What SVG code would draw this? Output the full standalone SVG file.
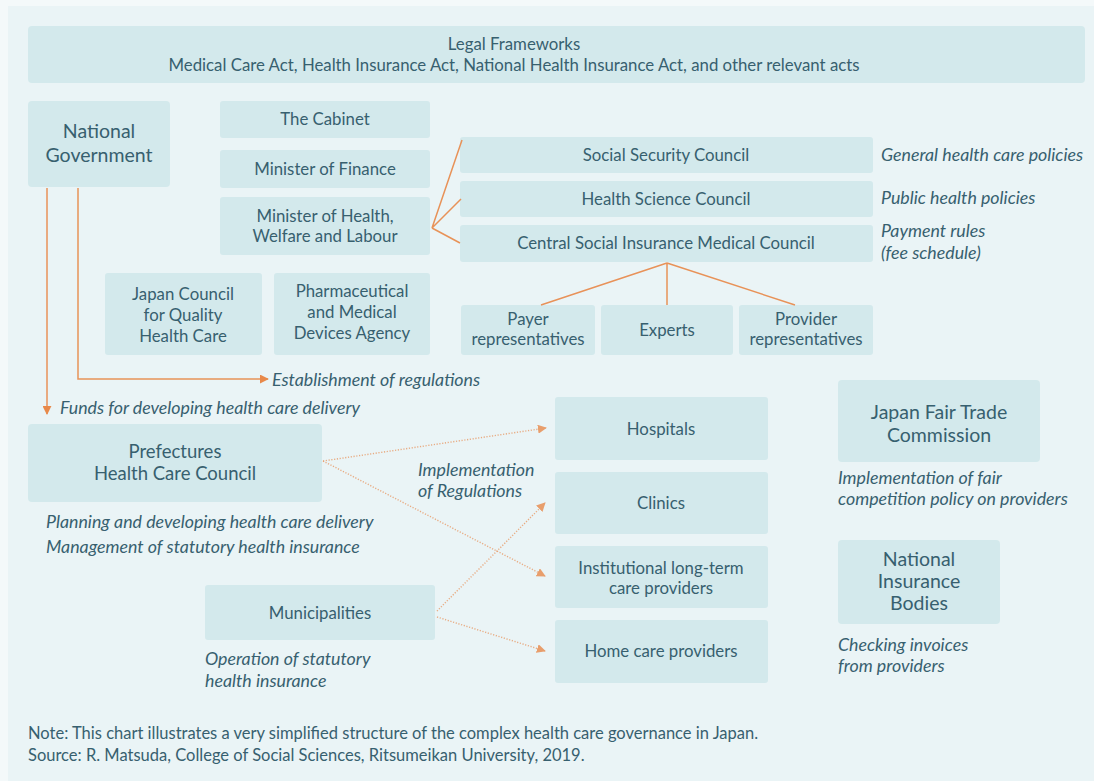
<svg xmlns="http://www.w3.org/2000/svg" width="1094" height="781" viewBox="0 0 1094 781">
  <defs>
    <style>
      .bg { fill: #f4f9fa; }
      .panel { fill: #eaf4f6; }
      .box { fill: #d3e9ec; }
      text { font-family: Lato, "Open Sans", "Liberation Sans", sans-serif; fill: #37606f; }
      .lbl { font-size: 16.8px; text-anchor: middle; }
      .big { font-size: 19.5px; text-anchor: middle; }
      .mid { font-size: 18.5px; text-anchor: middle; }
      .it { font-size: 17.8px; font-style: italic; }
      .note { font-size: 16.5px; }
      .solid { stroke: #e89258; stroke-width: 1.5; fill: none; }
      .dot { stroke: #e89a66; stroke-width: 1.4; fill: none; stroke-dasharray: 1.2 1.6; opacity: 0.8; }
    </style>
    <marker id="ah" viewBox="0 0 10 10" refX="9" refY="5" markerWidth="9" markerHeight="9" markerUnits="userSpaceOnUse" orient="auto">
      <path d="M0,0 L10,5 L0,10 Z" fill="#e8894a"/>
    </marker>
  </defs>

  <rect class="bg" x="0" y="0" width="1094" height="781"/>
  <rect class="panel" x="8" y="6" width="1086" height="775"/>

  <!-- Legal frameworks banner -->
  <g id="legal">
    <rect class="box" x="28" y="26" width="1057" height="57" rx="4"/>
    <text class="lbl" x="514" y="50">Legal Frameworks</text>
    <text class="lbl" x="514" y="71">Medical Care Act, Health Insurance Act, National Health Insurance Act, and other relevant acts</text>
  </g>

  <g id="national-government">
    <rect class="box" x="28" y="101" width="142" height="86" rx="4"/>
    <text class="big" x="99" y="138">National</text>
    <text class="big" x="99" y="162">Government</text>
  </g>

  <g id="cabinet">
    <rect class="box" x="220" y="101" width="210" height="37" rx="3"/>
    <text class="lbl" x="325" y="125">The Cabinet</text>
  </g>
  <g id="finance">
    <rect class="box" x="220" y="150" width="210" height="38" rx="3"/>
    <text class="lbl" x="325" y="175">Minister of Finance</text>
  </g>
  <g id="mhlw">
    <rect class="box" x="220" y="197" width="210" height="58" rx="3"/>
    <text class="lbl" x="325" y="222">Minister of Health,</text>
    <text class="lbl" x="325" y="242">Welfare and Labour</text>
  </g>

  <g id="social-security-council">
    <rect class="box" x="460" y="137" width="413" height="36" rx="3"/>
    <text class="lbl" x="666" y="161">Social Security Council</text>
  </g>
  <g id="health-science-council">
    <rect class="box" x="460" y="181" width="413" height="36" rx="3"/>
    <text class="lbl" x="666" y="205">Health Science Council</text>
  </g>
  <g id="csimc">
    <rect class="box" x="460" y="225" width="413" height="37" rx="3"/>
    <text class="lbl" x="666" y="249">Central Social Insurance Medical Council</text>
  </g>

  <g id="council-roles">
    <text class="it" x="881" y="161">General health care policies</text>
    <text class="it" x="881" y="204">Public health policies</text>
    <text class="it" x="881" y="237">Payment rules</text>
    <text class="it" x="881" y="259">(fee schedule)</text>
  </g>

  <g id="jcqhc">
    <rect class="box" x="105" y="273" width="157" height="82" rx="3"/>
    <text class="lbl" x="183" y="300">Japan Council</text>
    <text class="lbl" x="183" y="321">for Quality</text>
    <text class="lbl" x="183" y="342">Health Care</text>
  </g>
  <g id="pmda">
    <rect class="box" x="274" y="273" width="156" height="82" rx="3"/>
    <text class="lbl" x="352" y="297">Pharmaceutical</text>
    <text class="lbl" x="352" y="318">and Medical</text>
    <text class="lbl" x="352" y="339">Devices Agency</text>
  </g>

  <g id="payer">
    <rect class="box" x="461" y="305" width="134" height="50" rx="3"/>
    <text class="lbl" x="528" y="325">Payer</text>
    <text class="lbl" x="528" y="345">representatives</text>
  </g>
  <g id="experts">
    <rect class="box" x="601" y="305" width="132" height="50" rx="3"/>
    <text class="lbl" x="667" y="336">Experts</text>
  </g>
  <g id="provider">
    <rect class="box" x="739" y="305" width="134" height="50" rx="3"/>
    <text class="lbl" x="806" y="325">Provider</text>
    <text class="lbl" x="806" y="345">representatives</text>
  </g>

  <g id="prefectures">
    <rect class="box" x="28" y="424" width="294" height="78" rx="4"/>
    <text class="mid" x="175" y="458">Prefectures</text>
    <text class="mid" x="175" y="480">Health Care Council</text>
  </g>
  <g id="prefecture-roles">
    <text class="it" x="46" y="528">Planning and developing health care delivery</text>
    <text class="it" x="46" y="553">Management of statutory health insurance</text>
  </g>

  <g id="municipalities">
    <rect class="box" x="205" y="585" width="230" height="55" rx="3"/>
    <text class="lbl" x="320" y="619">Municipalities</text>
  </g>
  <g id="municipality-roles">
    <text class="it" x="205" y="665">Operation of statutory</text>
    <text class="it" x="205" y="687">health insurance</text>
  </g>

  <g id="hospitals">
    <rect class="box" x="555" y="397" width="213" height="63" rx="3"/>
    <text class="lbl" x="661" y="435">Hospitals</text>
  </g>
  <g id="clinics">
    <rect class="box" x="555" y="472" width="213" height="62" rx="3"/>
    <text class="lbl" x="661" y="509">Clinics</text>
  </g>
  <g id="ltc">
    <rect class="box" x="555" y="546" width="213" height="62" rx="3"/>
    <text class="lbl" x="661" y="574">Institutional long-term</text>
    <text class="lbl" x="661" y="594">care providers</text>
  </g>
  <g id="home-care">
    <rect class="box" x="555" y="620" width="213" height="63" rx="3"/>
    <text class="lbl" x="661" y="657">Home care providers</text>
  </g>

  <g id="jftc">
    <rect class="box" x="838" y="380" width="202" height="82" rx="4"/>
    <text class="big" x="939" y="419">Japan Fair Trade</text>
    <text class="big" x="939" y="442">Commission</text>
  </g>
  <g id="jftc-role">
    <text class="it" x="838" y="484">Implementation of fair</text>
    <text class="it" x="838" y="505">competition policy on providers</text>
  </g>
  <g id="insurers">
    <rect class="box" x="838" y="540" width="162" height="84" rx="4"/>
    <text class="big" x="919" y="566">National</text>
    <text class="big" x="919" y="588">Insurance</text>
    <text class="big" x="919" y="610">Bodies</text>
  </g>
  <g id="insurers-role">
    <text class="it" x="838" y="651">Checking invoices</text>
    <text class="it" x="838" y="672">from providers</text>
  </g>

  <g id="connectors">
    <!-- ministry to councils -->
    <path class="solid" d="M432,228 L462,140 M432,228 L461,199 M432,228 L460,243"/>
    <!-- CSIMC to its member groups -->
    <path class="solid" d="M667,263 L541,305 M667,263 L667,305 M667,263 L795,305"/>
    <!-- national government flows -->
    <path class="solid" d="M47,188 L47,414" marker-end="url(#ah)"/>
    <path class="solid" d="M78,188 L78,379 L268,379" marker-end="url(#ah)"/>
    <!-- implementation of regulations -->
    <path class="dot" d="M323,461 L546,428" marker-end="url(#ah)"/>
    <path class="dot" d="M323,461 L545,576" marker-end="url(#ah)"/>
    <path class="dot" d="M437,611 L545,503" marker-end="url(#ah)"/>
    <path class="dot" d="M437,617 L545,651" marker-end="url(#ah)"/>
  </g>

  <g id="flow-labels">
    <text class="it" x="272" y="386">Establishment of regulations</text>
    <text class="it" x="60" y="414">Funds for developing health care delivery</text>
    <text class="it" x="418" y="476">Implementation</text>
    <text class="it" x="418" y="497">of Regulations</text>
  </g>

  <g id="footnote">
    <text class="note" x="28" y="739">Note: This chart illustrates a very simplified structure of the complex health care governance in Japan.</text>
    <text class="note" x="28" y="761">Source: R. Matsuda, College of Social Sciences, Ritsumeikan University, 2019.</text>
  </g>
</svg>
